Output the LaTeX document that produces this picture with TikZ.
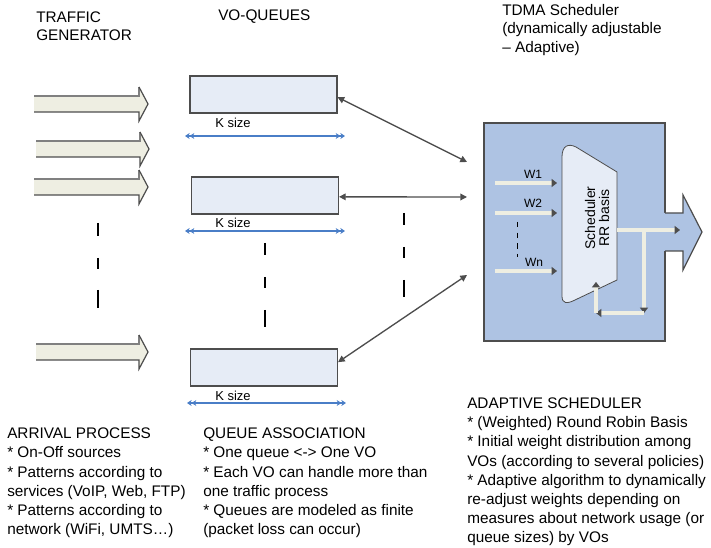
\documentclass[tikz,border=0pt]{standalone}
\usepackage{fontspec}
\setmainfont{Liberation Sans}
\usetikzlibrary{arrows.meta,calc}
\definecolor{lineG}{HTML}{4D4D4D}
\definecolor{beigeF}{HTML}{EEEEE2}
\definecolor{qfill}{HTML}{E6ECF6}
\definecolor{sfill}{HTML}{AEC3E3}
\definecolor{kblue}{HTML}{4A7EC7}
\newcommand{\fatarrow}[3]{%
  \fill[beigeF] ({#1},{#3-8}) -- ({#2-9},{#3-8}) -- ({#2-9},{#3-17}) -- ({#2},{#3}) -- ({#2-9},{#3+17}) -- ({#2-9},{#3+8}) -- ({#1},{#3+8}) -- cycle;
  \draw[gray, line width=0.9pt] ({#1},{#3-8}) -- ({#2-9},{#3-8}) -- ({#2-9},{#3-17});
  \draw[lineG, line width=0.9pt] ({#2-9},{#3-17}) -- ({#2},{#3}) -- ({#2-9},{#3+17}) -- ({#2-9},{#3+8}) -- ({#1},{#3+8});
}
\begin{document}
\begin{tikzpicture}[x=0.75pt,y=-0.75pt,
  qbox/.style={draw=lineG, fill=qfill, line width=0.8pt, minimum width=147*0.75pt, minimum height=37*0.75pt, inner sep=0pt},
  sbox/.style={draw=lineG, fill=sfill, line width=0.9pt, minimum width=181*0.75pt, minimum height=218*0.75pt, inner sep=0pt},
  conn/.style={draw=lineG, line width=1pt, {Triangle[length=5pt,width=5pt]}-{Triangle[length=5pt,width=5pt]}},
  kline/.style={draw=kblue, line width=0.8pt, {Stealth[length=3.5pt,width=4.5pt]Stealth[length=3.5pt,width=4.5pt]}-{Stealth[length=3.5pt,width=4.5pt]Stealth[length=3.5pt,width=4.5pt]}},
  txt/.style={font=\fontsize{11.5}{14.4}\selectfont, align=left, anchor=west, inner sep=0pt},
  ttl/.style={font=\fontsize{11.5}{13.8}\selectfont, align=left, anchor=west, inner sep=0pt},
  ksz/.style={font=\fontsize{9.75}{11}\selectfont, inner sep=0pt},
  wl/.style={font=\fontsize{9}{10}\selectfont, inner sep=0pt},
  wire/.style={draw=lineG, double=beigeF, double distance=2.4pt, line width=0.6pt, -{Triangle[length=4pt,width=6pt]}},
  dsh/.style={draw=black, line width=0.8pt}
]
\useasboundingbox (0,0) rectangle (711,548);

% titles
\node[ttl] (tg) at (36,26) {TRAFFIC\\GENERATOR};
\node[ttl] (vq) at (218,17) {VO-QUEUES};
\node[ttl] (tdma) at (502,30) {TDMA Scheduler\\(dynamically adjustable\\– Adaptive)};

% traffic generator arrows
\fatarrow{34}{148}{104}
\fatarrow{36}{149}{149}
\fatarrow{34}{148}{187}
\fatarrow{36}{148}{352}

% dash marks
\foreach \a/\b in {223/236,258/269,290/308} \draw[dsh] (98,\a) -- (98,\b);
\foreach \a/\b in {243/255,277/288,310/327} \draw[dsh] (265,\a) -- (265,\b);
\foreach \a/\b in {213/225,247/258,280/297} \draw[dsh] (404,\a) -- (404,\b);

% queues
\node[qbox] (q1) at (263.5,94.5) {};
\node[qbox] (q2) at (265,195.5) {};
\node[qbox] (q3) at (264,367.5) {};

% K size
\coordinate (k1a) at (185,136); \coordinate (k1b) at (345,136);
\coordinate (k2a) at (185,231); \coordinate (k2b) at (345,231);
\coordinate (k3a) at (187,403); \coordinate (k3b) at (346,403);
\draw[kline] (k1a) -- (k1b);
\draw[kline] (k2a) -- (k2b);
\draw[kline] (k3a) -- (k3b);
\node[ksz] (ks1) at (233,123) {K size};
\node[ksz] (ks2) at (233,223) {K size};
\node[ksz] (ks3) at (233,396) {K size};

% scheduler box
\node[sbox] (sched) at (574.5,232) {};
\fill[sfill] (663,213) -- (683,213) -- (683,195) -- (702,232) -- (683,270) -- (683,251) -- (663,251) -- cycle;
\draw[lineG, line width=0.9pt] (665,213) -- (683,213) -- (683,195) -- (702,232) -- (683,270) -- (683,251) -- (665,251);

% connectors
\coordinate (s1) at (467,162);
\coordinate (s2) at (467,197);
\coordinate (s3) at (467,275);
\draw[conn] ([yshift=-2pt]q1.east) -- (s1);
\draw[conn] ([yshift=-1pt]q2.east) -- (s2);
\draw[conn] ([yshift=4pt]q3.east) -- (s3);

% trapezoid
\draw[draw=lineG, fill=qfill, line width=0.6pt] (562,296) -- (562,157) .. controls (562,146) and (568,143) .. (576,147) -- (617,172) -- (617,280) -- (575,300) .. controls (567,304) and (562,304) .. (562,296) -- cycle;
\node[rotate=90, align=center, font=\fontsize{10.5}{10.5}\selectfont, inner sep=0pt] (stext) at (597,218) {Scheduler\\RR basis};

% weight inputs
\coordinate (w1s) at (495,183); \coordinate (w1e) at (557,183);
\coordinate (w2s) at (495,213); \coordinate (w2e) at (557,213);
\coordinate (wns) at (495,271); \coordinate (wne) at (557,271);
\draw[wire] (w1s) -- (w1e);
\draw[wire] (w2s) -- (w2e);
\draw[wire] (wns) -- (wne);
\node[wl] (lw1) at (533,174) {W1};
\node[wl] (lw2) at (533,203) {W2};
\node[wl] (lwn) at (534,262) {Wn};
\draw[black, line width=0.6pt, dash pattern=on 4pt off 4pt] (517,222) -- (517,257);

% feedback loop and output
\coordinate (fa) at (644,232); \coordinate (fb) at (644,313);
\coordinate (fc) at (596,313); \coordinate (fd) at (596,282);
\draw[wire] (fa) -- (fb);
\draw[wire] (fb) -- (fc);
\draw[wire] (fc) -- (fd);
\coordinate (o1) at (617,230); \coordinate (o2) at (680,230);
\draw[wire] (o1) -- (o2);

% bottom texts
\node[txt] (ap) at (7,483) {ARRIVAL PROCESS\\* On-Off sources\\* Patterns according to\\services (VoIP, Web, FTP)\\* Patterns according to\\network (WiFi, UMTS…)};
\node[txt] (qa) at (203,483) {QUEUE ASSOCIATION\\* One queue <-> One VO\\* Each VO can handle more than\\one traffic process\\* Queues are modeled as finite\\(packet loss can occur)};
\node[txt] (as) at (467,472) {ADAPTIVE SCHEDULER\\* (Weighted) Round Robin Basis\\* Initial weight distribution among\\VOs (according to several policies)\\* Adaptive algorithm to dynamically\\re-adjust weights depending on\\measures about network usage (or\\queue sizes) by VOs};
\end{tikzpicture}
\end{document}
